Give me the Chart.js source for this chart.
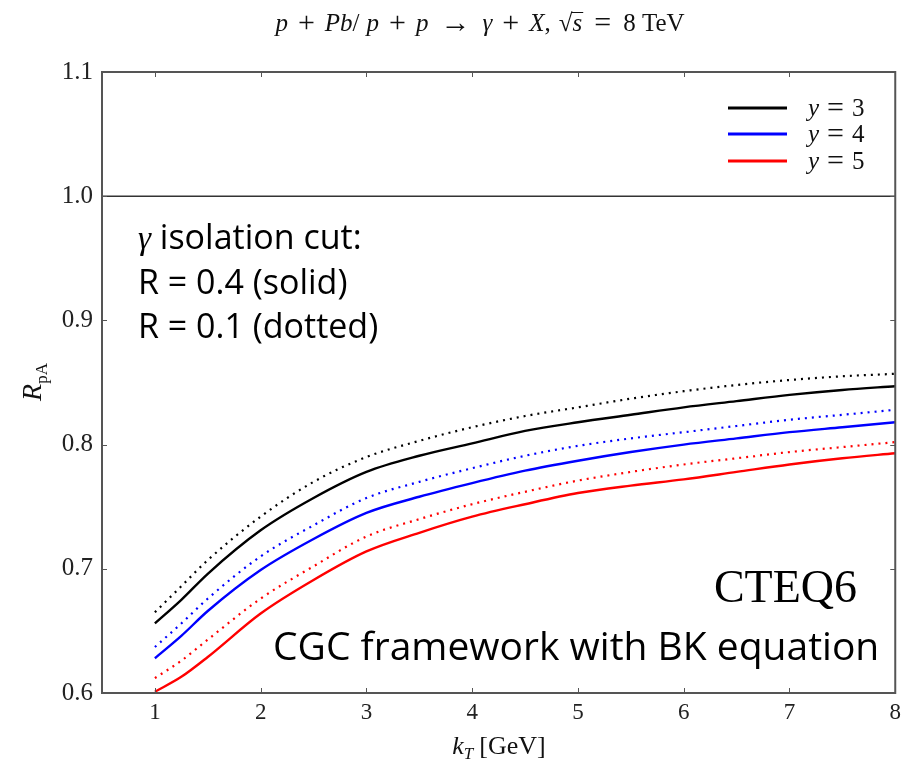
<!DOCTYPE html>
<html>
<head>
<meta charset="utf-8">
<script src="https://cdn.jsdelivr.net/npm/chart.js@4.4.1/dist/chart.umd.min.js"></script>
<style>
  html, body { margin: 0; padding: 0; background: #fff; }
  #wrap { width: 907px; height: 762px; }
</style>
</head>
<body>
<div id="wrap"><canvas id="rpa"></canvas></div>
<script>
// kT grid in GeV
var kT = [1, 1.25, 1.5, 2, 2.5, 3, 3.5, 4, 4.5, 5, 5.5, 6, 6.5, 7, 7.5, 8];

// R_pA, isolation cone R = 0.4 (solid)
var y3Solid = [0.656, 0.675, 0.696, 0.731, 0.757, 0.778, 0.791, 0.801, 0.811, 0.818, 0.824, 0.830, 0.835, 0.840, 0.844, 0.847];
var y4Solid = [0.628, 0.646, 0.666, 0.699, 0.724, 0.745, 0.758, 0.769, 0.779, 0.787, 0.794, 0.800, 0.805, 0.810, 0.814, 0.818];
var y5Solid = [0.601, 0.613, 0.629, 0.664, 0.691, 0.714, 0.729, 0.742, 0.752, 0.761, 0.767, 0.772, 0.778, 0.784, 0.789, 0.793];

// R_pA, isolation cone R = 0.1 (dotted)
var y3Dotted = [0.665, 0.686, 0.707, 0.742, 0.770, 0.790, 0.803, 0.814, 0.823, 0.830, 0.837, 0.843, 0.848, 0.852, 0.855, 0.857];
var y4Dotted = [0.637, 0.656, 0.676, 0.710, 0.735, 0.757, 0.770, 0.781, 0.791, 0.799, 0.805, 0.810, 0.815, 0.820, 0.824, 0.828];
var y5Dotted = [0.612, 0.626, 0.643, 0.676, 0.702, 0.726, 0.740, 0.752, 0.762, 0.771, 0.778, 0.784, 0.789, 0.794, 0.798, 0.802];

// reference line R_pA = 1
var refX = [0.5, 8];
var refY = [1.0, 1.0];

var xTicks = [1, 2, 3, 4, 5, 6, 7, 8];
var yTicks = [0.6, 0.7, 0.8, 0.9, 1.0, 1.1];
var rapidities = ['3', '4', '5'];
var colors = ['#000000', '#0000ff', '#ff0000'];

var SERIF = '"Liberation Serif", "DejaVu Serif", serif';
var SANS = '"Open Sans", "Noto Sans", sans-serif';

function pts(xs, ys) {
  return xs.map(function (x, i) { return { x: x, y: ys[i] }; });
}

function curve(label, values, color, dotted) {
  return {
    label: label,
    data: pts(kT, values),
    borderColor: color,
    borderWidth: dotted ? 2.2 : 2.4,
    borderDash: dotted ? [2, 5] : [],
    pointRadius: 0,
    fill: false,
    cubicInterpolationMode: 'monotone'
  };
}

// draws a run of text pieces with their own fonts (g = blank gap in px),
// returns the pieces with their x positions
function richText(ctx, parts, x, y, align) {
  var w = 0;
  parts.forEach(function (p) {
    if (p.g) { p.w = p.g; } else { ctx.font = p.f; p.w = ctx.measureText(p.t).width; }
    w += p.w;
  });
  var cx = align === 'center' ? x - w / 2 : (align === 'right' ? x - w : x);
  ctx.textAlign = 'left';
  ctx.textBaseline = 'alphabetic';
  parts.forEach(function (p) {
    if (!p.g) {
      ctx.font = p.f;
      ctx.fillText(p.t, cx, y + (p.dy || 0));
    }
    p.x = cx;
    cx += p.w;
  });
  return parts;
}

var decor = {
  id: 'decor',
  afterDatasetsDraw: function (chart) {
    var ctx = chart.ctx;
    var a = chart.chartArea;
    var xs = chart.scales.x, ys = chart.scales.y;
    ctx.save();

    // frame
    ctx.strokeStyle = '#555';
    ctx.lineWidth = 2;
    ctx.strokeRect(a.left, a.top, a.right - a.left, a.bottom - a.top);

    // inward ticks on all four sides
    ctx.lineWidth = 1;
    xTicks.forEach(function (v) {
      var px = Math.round(xs.getPixelForValue(v)) + 0.5;
      ctx.beginPath();
      ctx.moveTo(px, a.bottom); ctx.lineTo(px, a.bottom - 5);
      ctx.moveTo(px, a.top); ctx.lineTo(px, a.top + 5);
      ctx.stroke();
    });
    yTicks.forEach(function (v) {
      var py = Math.round(ys.getPixelForValue(v)) + 0.5;
      ctx.beginPath();
      ctx.moveTo(a.left, py); ctx.lineTo(a.left + 5, py);
      ctx.moveTo(a.right, py); ctx.lineTo(a.right - 5, py);
      ctx.stroke();
    });

    ctx.fillStyle = '#111';

    // title, with math-style operators and spacing
    var it = 'italic 25px ' + SERIF, up = '25px ' + SERIF, big = '30px ' + SERIF;
    var op = 10, rel = 12;
    var t = richText(ctx, [
      { t: 'p', f: it }, { g: op }, { t: '+', f: big, dy: 1 }, { g: op }, { t: 'Pb', f: it },
      { t: '/', f: up }, { g: 7 }, { t: 'p', f: it }, { g: op }, { t: '+', f: big, dy: 1 }, { g: op },
      { t: 'p', f: it }, { g: rel }, { t: '\u2192', f: big, dy: 1 }, { g: rel },
      { t: '\u03b3', f: it }, { g: op }, { t: '+', f: big, dy: 1 }, { g: op }, { t: 'X', f: it },
      { t: ',', f: up }, { g: 8 }, { t: '\u221a', f: up }, { t: 's', f: it },
      { g: rel }, { t: '=', f: big, dy: 1 }, { g: rel }, { t: '8 TeV', f: up }
    ], 480, 31, 'center');
    var root = t[22], rad = t[23];
    ctx.strokeStyle = '#111';
    ctx.lineWidth = 1;
    ctx.beginPath();
    ctx.moveTo(root.x + root.w - 1, 12.5);
    ctx.lineTo(rad.x + rad.w + 1, 12.5);
    ctx.stroke();

    // axis titles
    richText(ctx, [
      { t: 'k', f: 'italic 26px ' + SERIF },
      { t: 'T', f: 'italic 17px ' + SERIF, dy: 5 },
      { g: 6 },
      { t: '[GeV]', f: '26px ' + SERIF }
    ], 499, 754, 'center');

    ctx.save();
    ctx.translate(41, 382);
    ctx.rotate(-Math.PI / 2);
    richText(ctx, [
      { t: 'R', f: 'italic 28px ' + SERIF },
      { t: 'pA', f: '17px ' + SERIF, dy: 6 }
    ], 0, 0, 'center');
    ctx.restore();

    // legend
    var ly = [108, 134, 161];
    rapidities.forEach(function (r, i) {
      ctx.strokeStyle = colors[i];
      ctx.lineWidth = 3;
      ctx.beginPath();
      ctx.moveTo(728, ly[i]); ctx.lineTo(787, ly[i]);
      ctx.stroke();
      ctx.fillStyle = '#111';
      richText(ctx, [
        { t: 'y', f: 'italic 25px ' + SERIF },
        { g: 8 }, { t: '=', f: '30px ' + SERIF, dy: 1 }, { g: 8 },
        { t: r, f: '25px ' + SERIF }
      ], 808, ly[i] + 8, 'left');
    });

    // annotations
    ctx.fillStyle = '#000';
    richText(ctx, [
      { t: '\u03b3', f: 'italic 33px ' + SERIF },
      { t: ' isolation cut:', f: '34px ' + SANS }
    ], 138, 249, 'left');
    richText(ctx, [{ t: 'R = 0.4 (solid)', f: '34px ' + SANS }], 138, 294, 'left');
    richText(ctx, [{ t: 'R = 0.1 (dotted)', f: '34px ' + SANS }], 138, 338, 'left');
    richText(ctx, [{ t: 'CTEQ6', f: '46px ' + SERIF }], 857, 602, 'right');
    richText(ctx, [{ t: 'CGC framework with BK equation', f: '39px ' + SANS }], 273, 660, 'left');

    ctx.restore();
  }
};

new Chart(document.getElementById('rpa'), {
  type: 'line',
  data: {
    datasets: [
      curve('y = 3, R = 0.1', y3Dotted, colors[0], true),
      curve('y = 4, R = 0.1', y4Dotted, colors[1], true),
      curve('y = 5, R = 0.1', y5Dotted, colors[2], true),
      curve('y = 3, R = 0.4', y3Solid, colors[0], false),
      curve('y = 4, R = 0.4', y4Solid, colors[1], false),
      curve('y = 5, R = 0.4', y5Solid, colors[2], false),
      {
        label: 'R_pA = 1',
        data: pts(refX, refY),
        borderColor: '#333',
        borderWidth: 1.5,
        pointRadius: 0,
        fill: false
      }
    ]
  },
  options: {
    responsive: true,
    maintainAspectRatio: false,
    animation: false,
    devicePixelRatio: 1,
    layout: { padding: { left: 0, top: 72, right: 5, bottom: 0 } },
    plugins: {
      legend: { display: false },
      title: { display: false },
      tooltip: { enabled: false }
    },
    scales: {
      x: {
        type: 'linear',
        min: 0.5,
        max: 8,
        grid: { display: false, drawTicks: false },
        border: { display: false },
        afterBuildTicks: function (s) { s.ticks = xTicks.map(function (v) { return { value: v }; }); },
        afterFit: function (s) { s.height = 69; },
        ticks: {
          padding: 6,
          color: '#222',
          font: { family: SERIF, size: 23 },
          maxRotation: 0,
          callback: function (v) { return String(v); }
        }
      },
      y: {
        type: 'linear',
        min: 0.6,
        max: 1.1,
        grid: { display: false, drawTicks: false },
        border: { display: false },
        afterBuildTicks: function (s) { s.ticks = yTicks.map(function (v) { return { value: v }; }); },
        afterFit: function (s) { s.width = 102; },
        ticks: {
          padding: 9,
          color: '#222',
          font: { family: SERIF, size: 25 },
          callback: function (v) { return v.toFixed(1); }
        }
      }
    }
  },
  plugins: [decor]
});
</script>
</body>
</html>
